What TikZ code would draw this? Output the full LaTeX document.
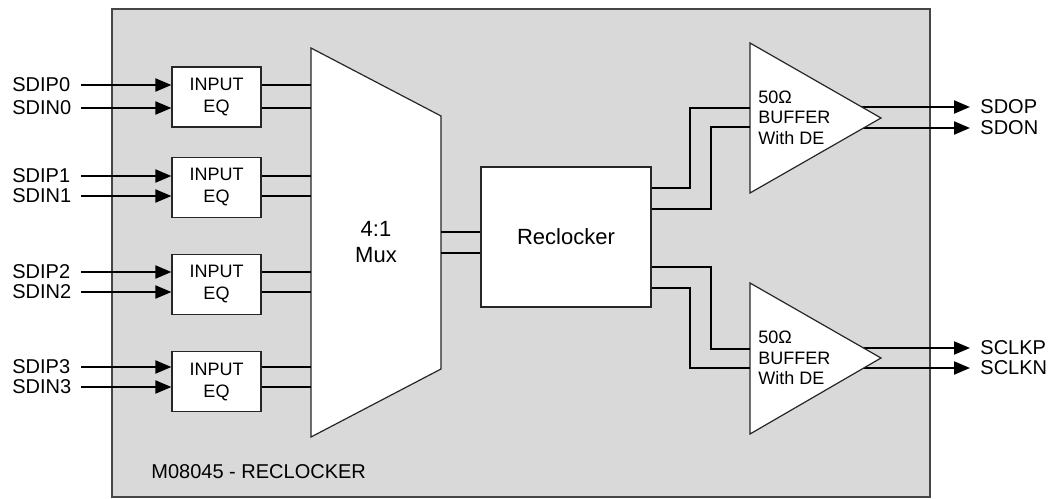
\documentclass[tikz,border=0pt]{standalone}
\usepackage{fontspec}
\setmainfont{Liberation Sans}
\usetikzlibrary{arrows.meta, positioning}
\definecolor{chipgray}{RGB}{217,217,217}
\definecolor{chipedge}{RGB}{70,70,70}

\begin{document}
\begin{tikzpicture}[
    x=0.5pt, y=-0.5pt,
    font=\fontsize{10}{12}\selectfont,
    chip/.style={
        rectangle, draw=chipedge, fill=chipgray, line width=0.8pt,
        minimum width=409pt, minimum height=244pt, anchor=north west
    },
    eqbox/.style={
        rectangle, draw=black!85, fill=white, line width=0.6pt,
        minimum width=44.5pt, minimum height=30pt,
        align=center, font=\fontsize{9}{11}\selectfont
    },
    block/.style={
        rectangle, draw=black!85, fill=white, line width=0.6pt,
        minimum width=85pt, minimum height=70pt,
        align=center, font=\fontsize{11}{13}\selectfont
    },
    outline/.style={draw=black!85, fill=white, line width=0.6pt},
    buftext/.style={anchor=west, inner sep=0pt, align=left, font=\fontsize{9}{10.25}\selectfont},
    pin/.style={inner sep=0pt},
    wire/.style={line width=1pt},
    sig/.style={-{Triangle[length=8pt,width=6.5pt]}, line width=1pt}
]
\useasboundingbox (0,0) rectangle (1048,498);
\node (chip) [chip] at (111,8) {};
\node (title) [pin, anchor=west] at (151,472) {M08045 - RECLOCKER};
% input equalisers
\node (eq0) [eqbox] at (216.5,97) {INPUT\\EQ};
\node (eq1) [eqbox, below=14.5pt of eq0] {INPUT\\EQ};
\node (eq2) [eqbox, below=18pt of eq1] {INPUT\\EQ};
\node (eq3) [eqbox, below=18pt of eq2] {INPUT\\EQ};
\node (sdip0) [pin, anchor=west] at (12,85) {SDIP0};
\node (sdin0) [pin, anchor=west] at (12,108) {SDIN0};
\node (sdip1) [pin, anchor=west] at (12,176) {SDIP1};
\node (sdin1) [pin, anchor=west] at (12,196) {SDIN1};
\node (sdip2) [pin, anchor=west] at (12,272) {SDIP2};
\node (sdin2) [pin, anchor=west] at (12,292) {SDIN2};
\node (sdip3) [pin, anchor=west] at (12,367) {SDIP3};
\node (sdin3) [pin, anchor=west] at (12,387) {SDIN3};
\coordinate (inx) at (81,0);
% mux
\coordinate (muxtl) at (311,48);
\coordinate (muxtr) at (441,116);
\draw [outline] (muxtl)--(muxtr)--(441,369)--(311,437)--cycle;
\node (mux) [font=\fontsize{11}{13}\selectfont, align=center] at (376,242) {4:1\\Mux};
\draw [sig] (sdip0.east -| inx)--(sdip0.east -| eq0.west);
\draw [sig] (sdin0.east -| inx)--(sdin0.east -| eq0.west);
\draw [sig] (sdip1.east -| inx)--(sdip1.east -| eq1.west);
\draw [sig] (sdin1.east -| inx)--(sdin1.east -| eq1.west);
\draw [sig] (sdip2.east -| inx)--(sdip2.east -| eq2.west);
\draw [sig] (sdin2.east -| inx)--(sdin2.east -| eq2.west);
\draw [sig] (sdip3.east -| inx)--(sdip3.east -| eq3.west);
\draw [sig] (sdin3.east -| inx)--(sdin3.east -| eq3.west);
\draw [wire] (sdip0 -| eq0.east)--(sdip0 -| muxtl);
\draw [wire] (sdin0 -| eq0.east)--(sdin0 -| muxtl);
\draw [wire] (sdip1 -| eq1.east)--(sdip1 -| muxtl);
\draw [wire] (sdin1 -| eq1.east)--(sdin1 -| muxtl);
\draw [wire] (sdip2 -| eq2.east)--(sdip2 -| muxtl);
\draw [wire] (sdin2 -| eq2.east)--(sdin2 -| muxtl);
\draw [wire] (sdip3 -| eq3.east)--(sdip3 -| muxtl);
\draw [wire] (sdin3 -| eq3.east)--(sdin3 -| muxtl);
% reclocker
\node (rclk) [block] at (566,237) {Reclocker};
\draw [wire] ([yshift=2.5pt]rclk.west -| muxtr)--([yshift=2.5pt]rclk.west);
\draw [wire] ([yshift=-8pt]rclk.west -| muxtr)--([yshift=-8pt]rclk.west);
% output buffers
\coordinate (tip0) at (881,118);
\coordinate (tip1) at (881,358);
\coordinate (b0a) at (750,108);
\coordinate (b0b) at (750,127);
\coordinate (b1a) at (750,349);
\coordinate (b1b) at (750,368);
\node (sdop) [pin, anchor=west] at (980,107) {SDOP};
\node (sdon) [pin, anchor=west] at (980,128) {SDON};
\node (sclkp) [pin, anchor=west] at (980,348) {SCLKP};
\node (sclkn) [pin, anchor=west] at (980,368) {SCLKN};
\draw [sig] ([xshift=-15pt]sdop.west -| tip0)--([xshift=-5pt]sdop.west);
\draw [sig] ([xshift=-15pt]sdon.west -| tip0)--([xshift=-5pt]sdon.west);
\draw [sig] ([xshift=-15pt]sclkp.west -| tip1)--([xshift=-5pt]sclkp.west);
\draw [sig] ([xshift=-15pt]sclkn.west -| tip1)--([xshift=-5pt]sclkn.west);
\draw [outline] (750,43)--(tip0)--(750,193)--cycle;
\draw [outline] (750,283)--(tip1)--(750,434)--cycle;
\node (buf0) [buftext] at (758,117.5) {50Ω\\BUFFER\\With DE};
\node (buf1) [buftext] at (758,358) {50Ω\\BUFFER\\With DE};
\draw [wire] ([yshift=24.5pt]rclk.east)--++(38,0)|-(b0a);
\draw [wire] ([yshift=14pt]rclk.east)--++(59,0)|-(b0b);
\draw [wire] ([yshift=-15pt]rclk.east)--++(59,0)|-(b1a);
\draw [wire] ([yshift=-25.5pt]rclk.east)--++(38,0)|-(b1b);
\end{tikzpicture}
\end{document}
